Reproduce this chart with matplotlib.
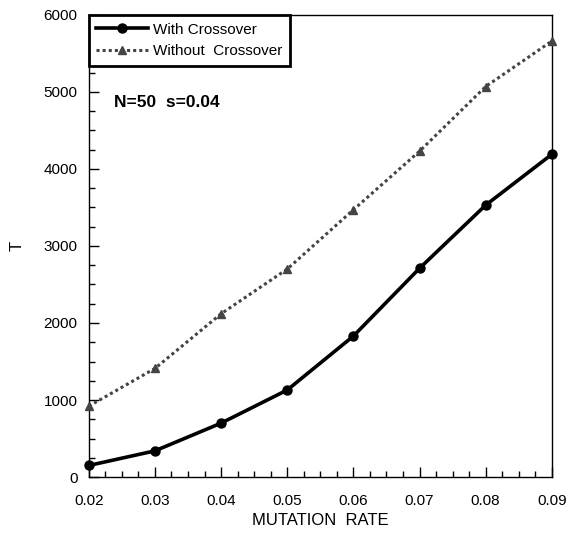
import numpy as np
import matplotlib
matplotlib.use('Agg')
import matplotlib.pyplot as plt
from matplotlib.ticker import MultipleLocator

plt.rcParams['font.family'] = ['Liberation Sans', 'DejaVu Sans']

# data
mutation_rate = [0.02, 0.03, 0.04, 0.05, 0.06, 0.07, 0.08, 0.09]
with_cross = [150, 340, 700, 1130, 1830, 2710, 3530, 4190]
without_cross = [920, 1410, 2120, 2700, 3470, 4230, 5070, 5660]

fig = plt.figure(figsize=(5.73, 5.33), dpi=100)
ax = fig.add_axes([0.155, 0.105, 0.808, 0.867])

ax.plot(mutation_rate, with_cross, color='black', lw=2.6, marker='o', ms=6.5,
        label='With Crossover', clip_on=False, zorder=3)
ax.plot(mutation_rate, without_cross, color='#444444', lw=2.2, ls=(0, (1, 1)),
        marker='^', ms=5.5, label='Without  Crossover', clip_on=False, zorder=3)

ax.set_xlim(0.02, 0.09)
ax.set_ylim(0, 6000)
ax.xaxis.set_major_locator(MultipleLocator(0.01))
ax.xaxis.set_minor_locator(MultipleLocator(0.0025))
ax.yaxis.set_major_locator(MultipleLocator(1000))
ax.yaxis.set_minor_locator(MultipleLocator(250))
ax.xaxis.set_major_formatter(plt.FuncFormatter(lambda v, p: f'{v:.2f}'))
ax.tick_params(which='both', direction='in', top=False, right=False, labelsize=11)
ax.tick_params(which='major', length=7, width=1)
ax.tick_params(which='minor', length=4, width=1)
ax.tick_params(axis='x', pad=12)
ax.tick_params(axis='y', pad=8)
for s in ax.spines.values():
    s.set_linewidth(1)

ax.set_xlabel('MUTATION  RATE', fontsize=12, labelpad=4)
ax.set_ylabel('T', fontsize=12, labelpad=14)

leg = ax.legend(loc='upper left', bbox_to_anchor=(0, 1), borderaxespad=0,
                frameon=True, fancybox=False, framealpha=1, fontsize=11,
                handlelength=3.4, handletextpad=0.3, labelspacing=0.5,
                borderpad=0.5)
leg.get_frame().set_edgecolor('black')
leg.get_frame().set_linewidth(2)

ax.text(0.054, 0.80, 'N=50  s=0.04', transform=ax.transAxes, fontsize=12.5,
        fontweight='bold')

fig.savefig('out.png', dpi=100)
